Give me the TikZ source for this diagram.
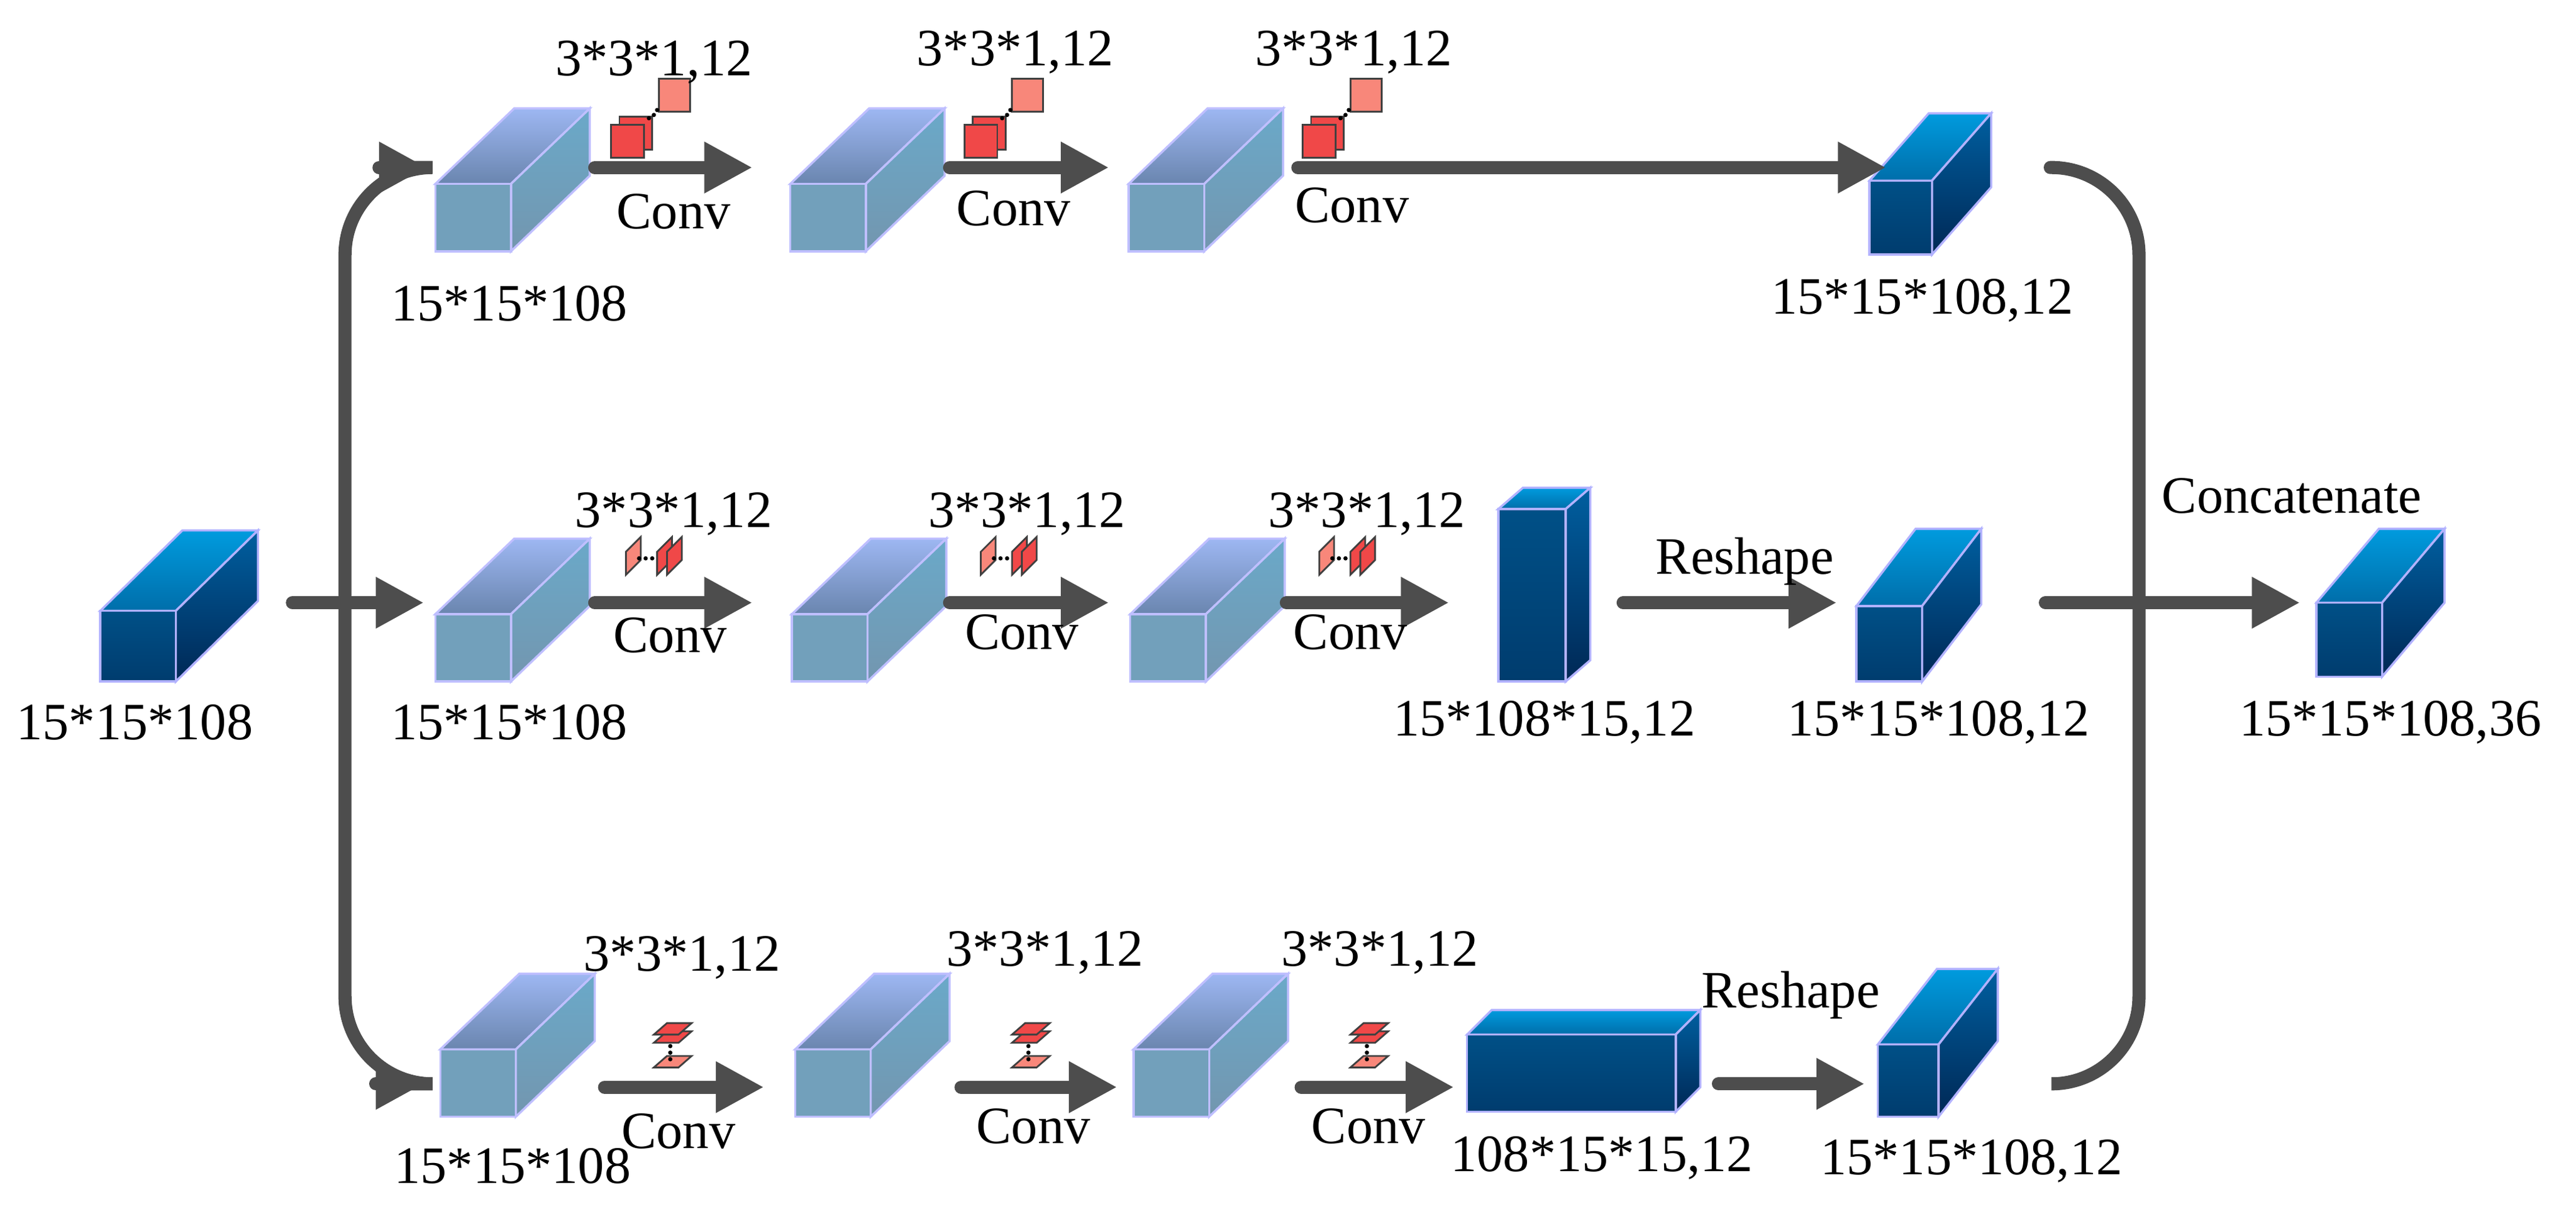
\documentclass[tikz,border=0pt]{standalone}
\usepackage{fontspec}
\setmainfont{Liberation Serif}
\usetikzlibrary{arrows.meta}
\definecolor{arr}{HTML}{4D4D4D}
\definecolor{kd}{HTML}{F04848}
\definecolor{kl}{HTML}{F8877A}
\tikzset{
  flow/.style={draw=arr,line width=6pt,line cap=round,-{Triangle[length=22pt,width=22pt]}},
  flowp/.style={draw=arr,line width=6pt,line cap=round,rounded corners=40pt},
  lbl/.style={font=\fontsize{24}{28}\selectfont,inner sep=0pt},
  Ltop/.style={top color=cyan!30!blue!35!white!95!black,bottom color=cyan!40!blue!30!gray!90!white,draw=blue!25!white,line width=1pt},
  Lfront/.style={fill={rgb,255:red,114;green,160;blue,187},draw=blue!25!white,line width=1pt},
  Lside/.style={top color={rgb,255:red,106;green,169;blue,201},bottom color={rgb,255:red,115;green,150;blue,175},draw=blue!25!white,line width=1pt},
  Dtop/.style={top color={rgb,255:red,0;green,155;blue,222},bottom color={rgb,255:red,0;green,110;blue,170},draw=blue!30!white,line width=1pt},
  Dfront/.style={top color={rgb,255:red,0;green,80;blue,135},bottom color={rgb,255:red,0;green,60;blue,110},draw=blue!30!white,line width=1pt},
  Dside/.style={top color={rgb,255:red,0;green,95;blue,160},bottom color={rgb,255:red,0;green,40;blue,85},draw=blue!30!white,line width=1pt},
  ker/.style={draw=black!75,line width=0.8pt},
}
% #1 x, #2 y (front bottom-left), #3 w, #4 h, #5 dx, #6 dy, #7 L or D, #8 name
\newcommand\mycube[8]{%
  \path[#7top] (#1,#2-#4) -- (#1+#5,#2-#4-#6) -- (#1+#3+#5,#2-#4-#6) -- (#1+#3,#2-#4) -- cycle;
  \path[#7side] (#1+#3,#2) -- (#1+#3,#2-#4) -- (#1+#3+#5,#2-#4-#6) -- (#1+#3+#5,#2-#6) -- cycle;
  \path[#7front] (#1,#2) rectangle (#1+#3,#2-#4);
  \node[inner sep=0pt,fit/.style={}] (#8) at (#1+#3/2+#5/2,#2-#4/2-#6/2) {};
}
\newcommand\kerA{%
  \draw[ker,fill=kd] (377,71) rectangle (397,91);
  \draw[ker,fill=kd] (372,76) rectangle (392,96);
  \draw[ker,fill=kl] (401,48) rectangle (420,68);
  \fill (395,72) circle (1.3) (398,70) circle (1.3) (400,67) circle (1.3);
}
\newcommand\kerB{%
  \draw[ker,fill=kl] (381,350) -- (381,336) -- (390,327) -- (390,341) -- cycle;
  \draw[ker,fill=kd] (400,350) -- (400,336) -- (409,327) -- (409,341) -- cycle;
  \draw[ker,fill=kd] (406,350) -- (406,336) -- (415,327) -- (415,341) -- cycle;
  \fill (389,340) circle (1.3) (393,340) circle (1.3) (397,340) circle (1.3);
}
\newcommand\kerC{%
  \draw[ker,fill=kd] (398,635) -- (413,635) -- (421,628) -- (406,628) -- cycle;
  \draw[ker,fill=kd] (398,630) -- (413,630) -- (421,623) -- (406,623) -- cycle;
  \draw[ker,fill=kl] (398,650) -- (413,650) -- (421,643) -- (406,643) -- cycle;
  \fill (408,637) circle (1.3) (408,641) circle (1.3) (408,645) circle (1.3);
}
\begin{document}
\begin{tikzpicture}[x=0.02639cm,y=-0.02639cm]
\useasboundingbox (0,0) rectangle (1568,745);
% cubes
\mycube{61}{415}{46}{43}{50}{49}{D}{in}
\mycube{265}{153}{46}{41}{48}{46}{L}{a1}
\mycube{481}{153}{46}{41}{48}{46}{L}{a2}
\mycube{687}{153}{46}{41}{48}{46}{L}{a3}
\mycube{1138}{155}{38}{45}{36}{41}{D}{a4}
\mycube{265}{415}{46}{41}{48}{46}{L}{b1}
\mycube{482}{415}{46}{41}{48}{46}{L}{b2}
\mycube{688}{415}{46}{41}{48}{46}{L}{b3}
\mycube{912}{415}{41}{105}{15}{13}{D}{b4}
\mycube{1130}{415}{40}{46}{36}{47}{D}{b5}
\mycube{1410}{412}{40}{45}{38}{45}{D}{out}
\mycube{268}{680}{46}{41}{48}{46}{L}{c1}
\mycube{484}{680}{46}{41}{48}{46}{L}{c2}
\mycube{690}{680}{46}{41}{48}{46}{L}{c3}
\mycube{893}{677}{127}{47}{15}{15}{D}{c4}
\mycube{1143}{680}{37}{44}{36}{46}{D}{c5}
% kernels
\kerA
\begin{scope}[shift={(215,0)}]\kerA\end{scope}
\begin{scope}[shift={(421,0)}]\kerA\end{scope}
\kerB
\begin{scope}[shift={(216,0)}]\kerB\end{scope}
\begin{scope}[shift={(422,0)}]\kerB\end{scope}
\kerC
\begin{scope}[shift={(218,0)}]\kerC\end{scope}
\begin{scope}[shift={(424,0)}]\kerC\end{scope}
% coordinates
\foreach \n/\x/\y in {a1s/362/102,a1e/458/102,a2s/578/102,a2e/675/102,a3s/790/102,a3e/1148/102,
  b1s/362/367,b1e/458/367,b2s/578/367,b2e/675/367,b3s/783/367,b3e/882/367,b4s/988/367,b4e/1118/367,
  c1s/368/662,c1e/465/662,c2s/585/662,c2e/680/662,c3s/792/662,c3e/885/662,c4s/1046/660,c4e/1135/660,
  ins/178/367,ine/258/367,tp/260/102,bt/258/660,vt/210/102,vb/210/660,
  rt/1248/102,rb/1250/660,rx/1302/102,rxb/1302/660,ms/1245/367,me/1400/367}
  \coordinate (\n) at (\x,\y);
% arrows
\foreach \s/\e in {a1s/a1e,a2s/a2e,a3s/a3e,b1s/b1e,b2s/b2e,b3s/b3e,b4s/b4e,c1s/c1e,c2s/c2e,c3s/c3e,c4s/c4e,ins/ine,ms/me}
  \draw[flow] (\s) -- (\e);
\draw[flowp] (210,367) -- (vt) -- ([xshift=-20]tp);
\draw[flow] ([xshift=-22]tp) -- (tp);
\draw[flowp] (210,367) -- (vb) -- ([xshift=-20]bt);
\draw[flow] ([xshift=-22]bt) -- (bt);
\draw[flowp] (rt) -- (rx) -- (rxb) -- (rb);
% labels
\foreach \x/\y/\t in {82/440/15*15*108,310/185/15*15*108,310/440/15*15*108,312/710/15*15*108,
  1170/183/{15*15*108,12},940/440/{15*108*15,12},1180/440/{15*15*108,12},1455/440/{15*15*108,36},
  975/705/{108*15*15,12},1200/707/{15*15*108,12},
  398/38/{3*3*1,12},618/32/{3*3*1,12},824/32/{3*3*1,12},
  410/313/{3*3*1,12},625/313/{3*3*1,12},832/313/{3*3*1,12},
  415/583/{3*3*1,12},636/580/{3*3*1,12},840/580/{3*3*1,12},
  410/129/Conv,617/127/Conv,823/125/Conv,408/387/Conv,622/385/Conv,822/385/Conv,
  413/689/Conv,629/686/Conv,833/686/Conv,
  1062/342/Reshape,1090/606/Reshape,1395/302/Concatenate}
  \node[lbl] at (\x,\y) {\t};
\end{tikzpicture}
\end{document}
